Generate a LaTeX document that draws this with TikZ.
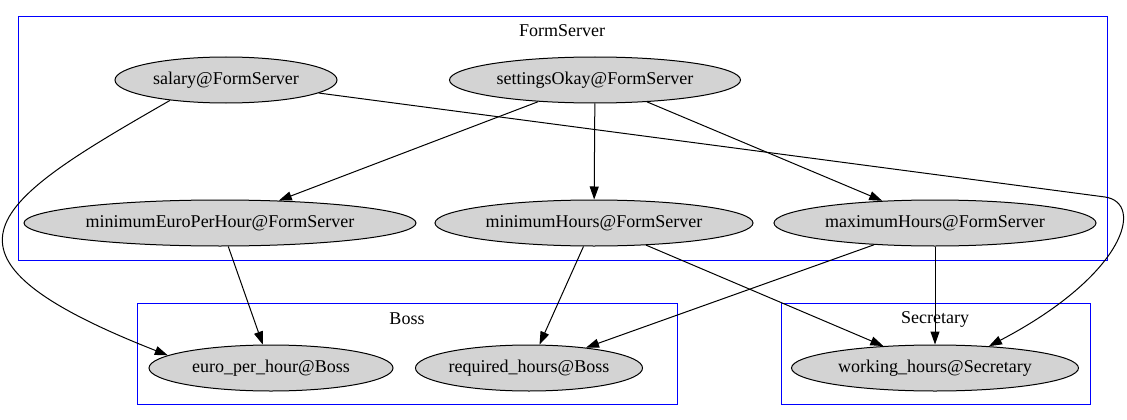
\documentclass[tikz,border=0pt]{standalone}
\usepackage{fontspec}
\setmainfont{Liberation Serif}
\usetikzlibrary{shapes.geometric,arrows.meta}
\definecolor{lgray}{RGB}{211,211,211}
\begin{document}
\begin{tikzpicture}[x=1pt,y=-1pt,
  every node/.style={font=\fontsize{18}{21}\selectfont},
  nd/.style={ellipse,draw=black,fill=lgray,line width=1pt,inner sep=0pt,minimum height=46pt},
  clus/.style={draw={rgb,255:red,0;green,0;blue,255},line width=0.9pt},
  edge/.style={draw=black,line width=1pt,-{Triangle[length=13pt,width=9pt]}}]
\useasboundingbox (0,0) rectangle (1127,420);
% clusters
\draw[clus] (18,16) rectangle (1107,260);
\draw[clus] (137,303) rectangle (677,404);
\draw[clus] (781,303) rectangle (1090,404);
\node (lFS) at (562,31) {FormServer};
\node (lB) at (407,319) {Boss};
\node (lS) at (935,319) {Secretary};
% nodes
\node[nd,minimum width=222pt] (salary) at (226,80) {salary@FormServer};
\node[nd,minimum width=291pt] (settings) at (595,80) {settingsOkay@FormServer};
\node[nd,minimum width=392pt] (minEuro) at (220,223) {minimumEuroPerHour@FormServer};
\node[nd,minimum width=318pt] (minHours) at (594,223) {minimumHours@FormServer};
\node[nd,minimum width=322pt] (maxHours) at (935,223) {maximumHours@FormServer};
\node[nd,minimum width=244pt] (euro) at (271,368) {euro\_per\_hour@Boss};
\node[nd,minimum width=224pt] (required) at (529,368) {required\_hours@Boss};
\node[nd,minimum width=287pt] (working) at (935,368) {working\_hours@Secretary};
% edges
\draw[edge] (salary.200) .. controls (-7,202) and (-90,254) .. (euro.173);
\draw[edge] (salary.352) -- (1105,197) .. controls (1145,203) and (1125,275) .. (working.22);
\draw[edge] (settings) -- (minEuro);
\draw[edge] (settings) -- (minHours);
\draw[edge] (settings) -- (maxHours);
\draw[edge] (minEuro) -- (euro);
\draw[edge] (minHours) -- (required);
\draw[edge] (minHours) -- (working);
\draw[edge] (maxHours) -- (required);
\draw[edge] (maxHours) -- (working);
\end{tikzpicture}
\end{document}
